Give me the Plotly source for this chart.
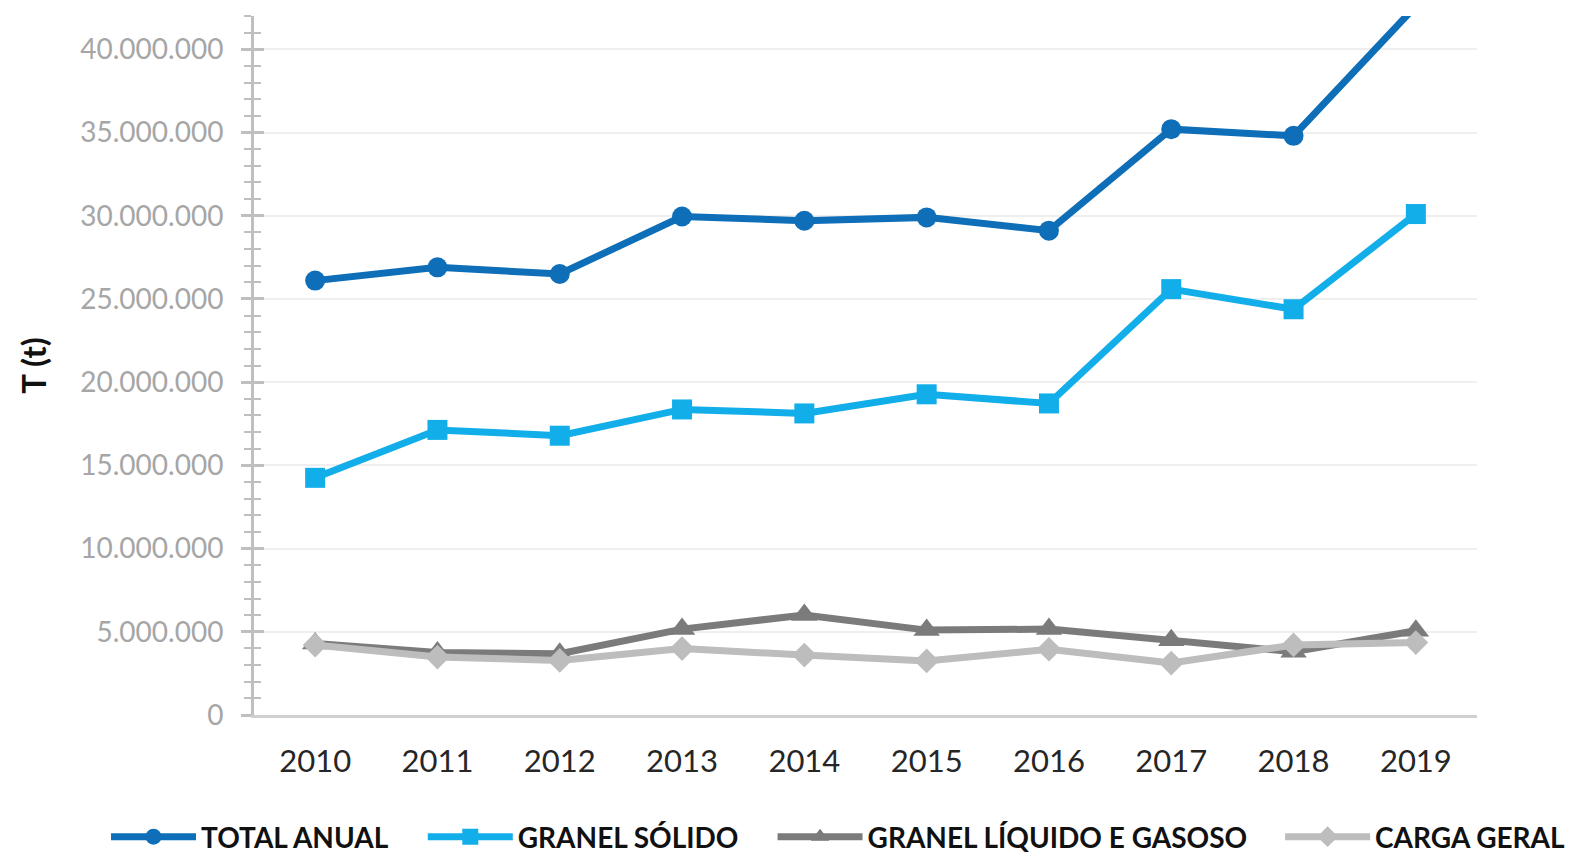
import plotly.graph_objects as go

years = ["2010", "2011", "2012", "2013", "2014", "2015", "2016", "2017", "2018", "2019"]

total_anual = [26_100_000, 26_900_000, 26_500_000, 29_950_000, 29_700_000,
               29_900_000, 29_100_000, 35_200_000, 34_800_000, 42_600_000]
granel_solido = [14_250_000, 17_130_000, 16_780_000, 18_360_000, 18_120_000,
                 19_270_000, 18_720_000, 25_590_000, 24_380_000, 30_100_000]
granel_liquido_gasoso = [4_300_000, 3_750_000, 3_680_000, 5_160_000, 6_010_000,
                         5_100_000, 5_160_000, 4_490_000, 3_800_000, 5_060_000]
carga_geral = [4_200_000, 3_480_000, 3_280_000, 3_990_000, 3_600_000,
               3_250_000, 3_950_000, 3_120_000, 4_210_000, 4_350_000]

series_names = ["TOTAL ANUAL", "GRANEL SÓLIDO", "GRANEL LÍQUIDO E GASOSO", "CARGA GERAL"]
y_tick_values = [0, 5_000_000, 10_000_000, 15_000_000, 20_000_000,
                 25_000_000, 30_000_000, 35_000_000, 40_000_000]
y_max = 42_000_000

fig = go.Figure()

fig.add_trace(go.Scatter(
    x=years, y=total_anual, name=series_names[0], mode="lines+markers",
    line=dict(color="#0E6EB8", width=7),
    marker=dict(symbol="circle", size=20, color="#0E6EB8"),
    legend="legend",
))
fig.add_trace(go.Scatter(
    x=years, y=granel_solido, name=series_names[1], mode="lines+markers",
    line=dict(color="#12AEEA", width=7),
    marker=dict(symbol="square", size=20, color="#12AEEA"),
    legend="legend2",
))
fig.add_trace(go.Scatter(
    x=years, y=granel_liquido_gasoso, name=series_names[2], mode="lines+markers",
    line=dict(color="#7B7B7B", width=7),
    marker=dict(symbol="triangle-up", size=23, color="#7B7B7B"),
    legend="legend3",
))
fig.add_trace(go.Scatter(
    x=years, y=carga_geral, name=series_names[3], mode="lines+markers",
    line=dict(color="#BDBDBD", width=7),
    marker=dict(symbol="diamond", size=19, color="#BDBDBD"),
    yaxis="y2",
    legend="legend4",
))

legend_font = dict(family="Lato", size=28, color="#111111", weight="bold")
legend_common = dict(orientation="h", xanchor="left", y=-0.1745, yanchor="middle",
                     font=legend_font, itemwidth=85)

fig.update_layout(
    width=1586, height=854,
    margin=dict(l=246, r=117, t=8, b=147, autoexpand=False),
    paper_bgcolor="white", plot_bgcolor="white",
    separators=",.",
    font=dict(family="Lato", color="#262626"),
    showlegend=True,
    legend=dict(x=-0.121, **legend_common),
    legend2=dict(x=0.138, **legend_common),
    legend3=dict(x=0.424, **legend_common),
    legend4=dict(x=0.839, **legend_common),
    xaxis=dict(
        type="category", range=[-0.5, 9.5],
        showline=True, linecolor="#D0D0D0", linewidth=3,
        ticks="", showgrid=False, zeroline=False,
        tickfont=dict(family="Lato", size=31, color="#262626"),
        ticklabelstandoff=17,
    ),
    yaxis=dict(
        range=[0, y_max], tickvals=y_tick_values, tickformat=",d",
        showline=True, linecolor="#BFBFBF", linewidth=3,
        ticks="outside", ticklen=10, tickwidth=2.5, tickcolor="#BFBFBF",
        minor=dict(dtick=1_000_000, ticks="outside", ticklen=7, tickwidth=2, tickcolor="#BFBFBF", showgrid=False),
        showgrid=True, gridcolor="#EFEFEF", gridwidth=1.5, zeroline=False,
        tickfont=dict(family="Lato", size=28, color="#A6A6A6"),
        ticklabelstandoff=12,
        title=dict(text="T (t)", font=dict(family="Lato", size=33, color="#111111", weight="bold"), standoff=24),
    ),
    yaxis2=dict(
        overlaying="y", matches="y", range=[0, y_max], tickvals=y_tick_values,
        showticklabels=False, showline=False, showgrid=False, zeroline=False,
        ticks="inside", ticklen=10, tickwidth=2.5, tickcolor="#BFBFBF",
        minor=dict(dtick=1_000_000, ticks="inside", ticklen=7, tickwidth=2, tickcolor="#BFBFBF", showgrid=False),
    ),
)

fig.write_html("out.html")
